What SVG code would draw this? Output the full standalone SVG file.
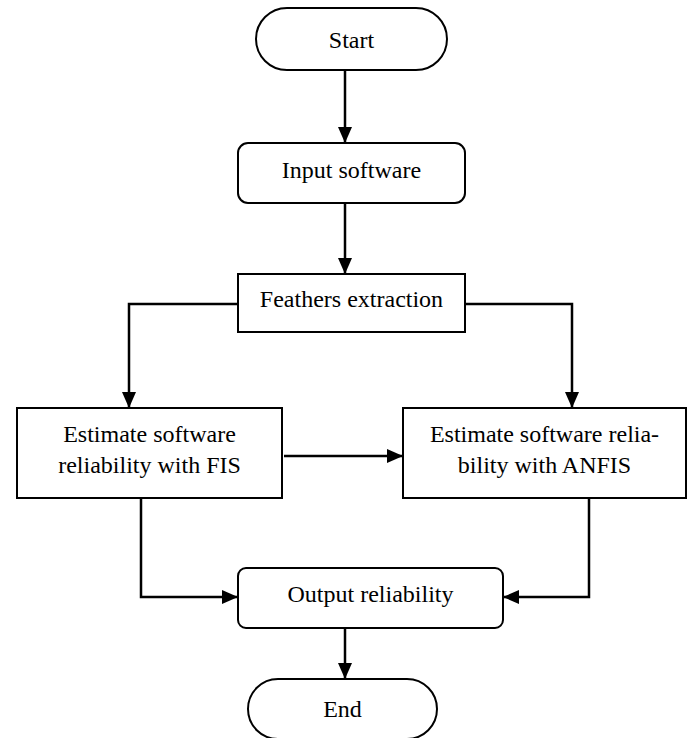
<svg xmlns="http://www.w3.org/2000/svg" width="694" height="738" viewBox="0 0 694 738">
<style>
.box{fill:#fff;stroke:#000;stroke-width:2}
.t{font-family:"Liberation Serif","Times New Roman",serif;font-size:24px;fill:#000;text-anchor:middle}
.c{fill:none;stroke:#000;stroke-width:2.5}
</style>
<defs>
<marker id="ah" markerUnits="userSpaceOnUse" markerWidth="16" markerHeight="14" refX="16" refY="7" orient="auto">
<path d="M0,0 L16,7 L0,14 z" fill="#000"/>
</marker>
</defs>
<rect width="694" height="738" fill="#fff"/>
<g id="connectors">
<path class="c" d="M345,70 L345,143" marker-end="url(#ah)"/>
<path class="c" d="M345,203 L345,274" marker-end="url(#ah)"/>
<path class="c" d="M238,304 L129,304 L129,408" marker-end="url(#ah)"/>
<path class="c" d="M465,304 L572,304 L572,408" marker-end="url(#ah)"/>
<path class="c" d="M284,456 L403,456" marker-end="url(#ah)"/>
<path class="c" d="M141,498 L141,597 L238,597" marker-end="url(#ah)"/>
<path class="c" d="M589,498 L589,597 L503,597" marker-end="url(#ah)"/>
<path class="c" d="M345,628 L345,679" marker-end="url(#ah)"/>
</g>
<g id="start">
<rect class="box" x="256" y="8" width="191" height="62" rx="31" ry="31"/>
<text class="t" x="351.5" y="48">Start</text>
</g>
<g id="input">
<rect class="box" x="238" y="143" width="227" height="60" rx="10" ry="10"/>
<text class="t" x="351.5" y="178">Input software</text>
</g>
<g id="feathers">
<rect class="box" x="238" y="274" width="227" height="58"/>
<text class="t" x="351.5" y="307">Feathers extraction</text>
</g>
<g id="fis">
<rect class="box" x="17" y="408" width="265" height="90"/>
<text class="t" x="149.5" y="442">Estimate software</text>
<text class="t" x="149.5" y="473">reliability with FIS</text>
</g>
<g id="anfis">
<rect class="box" x="403" y="408" width="283" height="90"/>
<text class="t" x="544.5" y="442">Estimate software relia-</text>
<text class="t" x="544.5" y="473">bility with ANFIS</text>
</g>
<g id="output">
<rect class="box" x="238" y="568" width="265" height="60" rx="8" ry="8"/>
<text class="t" x="370.5" y="602">Output reliability</text>
</g>
<g id="end">
<rect class="box" x="248" y="679" width="189" height="60" rx="30" ry="30"/>
<text class="t" x="342.5" y="717">End</text>
</g>
</svg>
